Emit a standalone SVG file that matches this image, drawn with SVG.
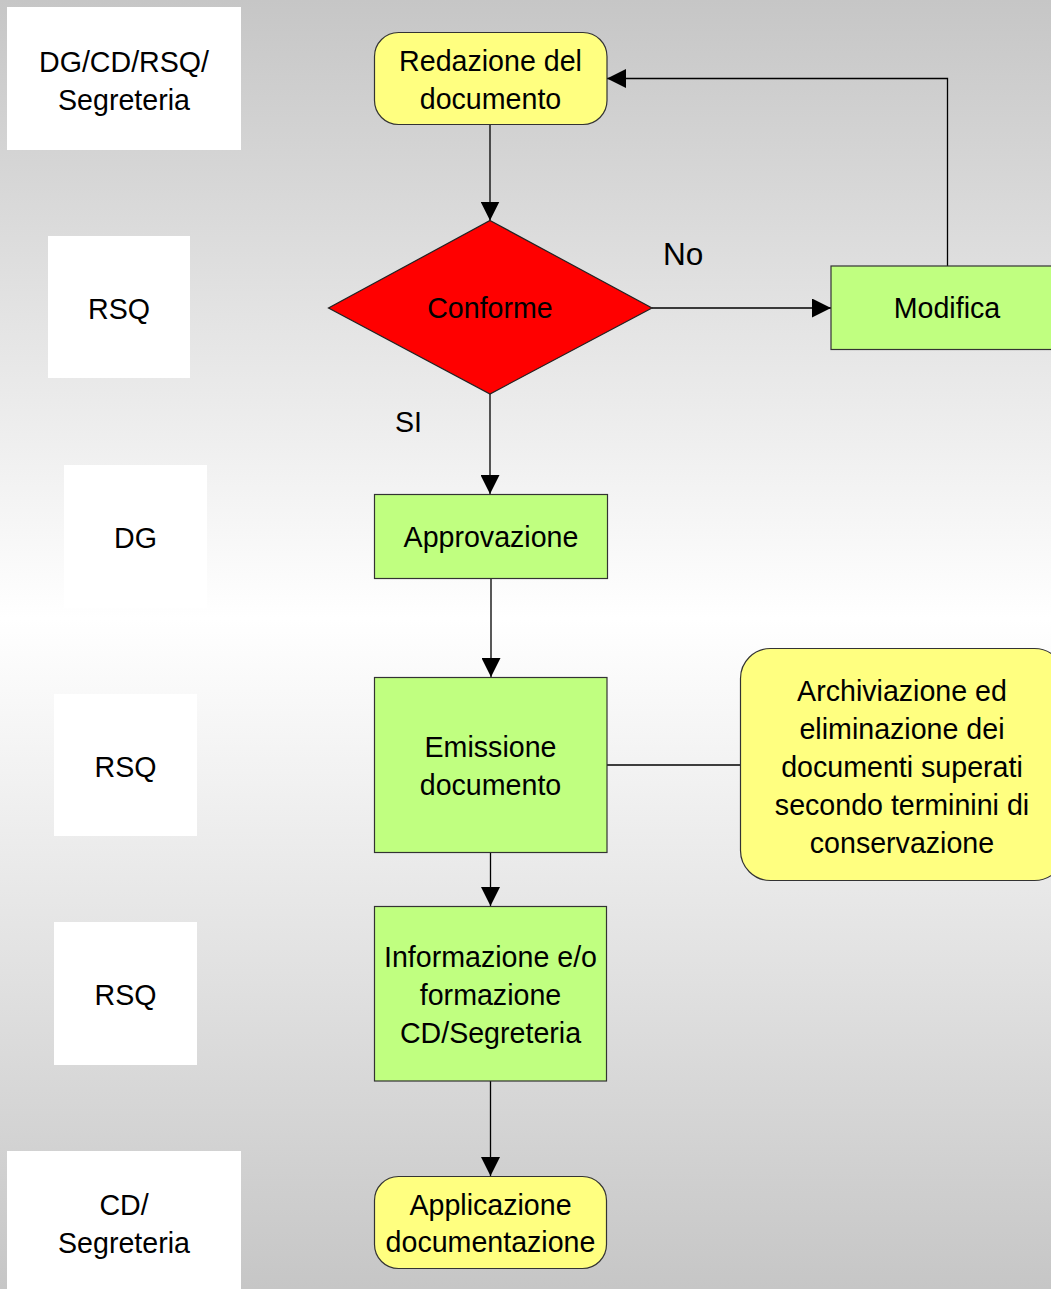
<svg xmlns="http://www.w3.org/2000/svg" width="1051" height="1289" viewBox="0 0 1051 1289">
  <defs>
    <linearGradient id="bg" x1="0" y1="0" x2="0" y2="1">
      <stop offset="0" stop-color="#c6c6c6"/>
      <stop offset="0.48" stop-color="#ffffff"/>
      <stop offset="1" stop-color="#c6c6c6"/>
    </linearGradient>
    <marker id="arrow" viewBox="0 0 19 19" refX="19" refY="9.5" markerWidth="19" markerHeight="19" markerUnits="userSpaceOnUse" orient="auto">
      <path d="M0,0 L19,9.5 L0,19 Z" fill="#000"/>
    </marker>
  </defs>
  <style>
    text { font-family: "Liberation Sans", Arial, sans-serif; font-size: 28.6px; fill: #000; text-anchor: middle; }
    .role { fill: #ffffff; stroke: none; }
    .term { fill: #ffff80; stroke: #333333; stroke-width: 1.2; }
    .proc { fill: #c0ff80; stroke: #333333; stroke-width: 1.2; }
    .dec { fill: #ff0000; stroke: #222222; stroke-width: 1.2; }
    .conn { fill: none; stroke: #000; stroke-width: 1.3; }
    .label { text-anchor: start; }
    .big { font-size: 31.5px; }
  </style>

  <rect x="0" y="0" width="1051" height="1289" fill="url(#bg)"/>

  <!-- Role column -->
  <g id="role-redazione">
    <rect class="role" x="7" y="7" width="234" height="143"/>
    <text x="124" y="72">DG/CD/RSQ/</text>
    <text x="124" y="110">Segreteria</text>
  </g>
  <g id="role-conforme">
    <rect class="role" x="48" y="236" width="142" height="142"/>
    <text x="119" y="319">RSQ</text>
  </g>
  <g id="role-approvazione">
    <rect class="role" x="64" y="465" width="143" height="143"/>
    <text x="135.5" y="548">DG</text>
  </g>
  <g id="role-emissione">
    <rect class="role" x="54" y="694" width="143" height="142"/>
    <text x="125.5" y="777">RSQ</text>
  </g>
  <g id="role-informazione">
    <rect class="role" x="54" y="922" width="143" height="143"/>
    <text x="125.5" y="1005">RSQ</text>
  </g>
  <g id="role-applicazione">
    <rect class="role" x="7" y="1151" width="234" height="140"/>
    <text x="124" y="1215">CD/</text>
    <text x="124" y="1253">Segreteria</text>
  </g>

  <!-- Connectors -->
  <g id="connectors">
    <path class="conn" d="M490,124.5 V220.5" marker-end="url(#arrow)"/>
    <path class="conn" d="M652,308 H831" marker-end="url(#arrow)"/>
    <path class="conn" d="M947.5,266 V78.5 H607" marker-end="url(#arrow)"/>
    <path class="conn" d="M490,394 V494" marker-end="url(#arrow)"/>
    <path class="conn" d="M491,578.5 V677" marker-end="url(#arrow)"/>
    <path class="conn" d="M490.5,852 V906" marker-end="url(#arrow)"/>
    <path class="conn" d="M490.5,1081 V1176" marker-end="url(#arrow)"/>
    <path class="conn" d="M607,765 H740"/>
    <text class="label big" x="663" y="265">No</text>
    <text class="label" x="395" y="432">SI</text>
  </g>

  <!-- Flow nodes -->
  <g id="redazione">
    <rect class="term" x="374.5" y="32.5" width="232.5" height="92" rx="24" ry="24"/>
    <text x="490.5" y="71">Redazione del</text>
    <text x="490.5" y="109">documento</text>
  </g>
  <g id="conforme">
    <polygon class="dec" points="490,220.5 652,308 490,394 328.5,308"/>
    <text x="490" y="318">Conforme</text>
  </g>
  <g id="modifica">
    <rect class="proc" x="831" y="266" width="232" height="83.5"/>
    <text x="947" y="318">Modifica</text>
  </g>
  <g id="approvazione">
    <rect class="proc" x="374.5" y="494.5" width="233" height="84"/>
    <text x="491" y="547">Approvazione</text>
  </g>
  <g id="emissione">
    <rect class="proc" x="374.5" y="677.5" width="232.5" height="175"/>
    <text x="490.5" y="757">Emissione</text>
    <text x="490.5" y="795">documento</text>
  </g>
  <g id="archiviazione">
    <rect class="term" x="740.5" y="648.5" width="324" height="232" rx="30" ry="30"/>
    <text x="902" y="701">Archiviazione ed</text>
    <text x="902" y="739">eliminazione dei</text>
    <text x="902" y="777">documenti superati</text>
    <text x="902" y="815">secondo terminini di</text>
    <text x="902" y="853">conservazione</text>
  </g>
  <g id="informazione">
    <rect class="proc" x="374.5" y="906.5" width="232" height="174.5"/>
    <text x="490.5" y="967">Informazione e/o</text>
    <text x="490.5" y="1005">formazione</text>
    <text x="490.5" y="1043">CD/Segreteria</text>
  </g>
  <g id="applicazione">
    <rect class="term" x="374.5" y="1176.5" width="232" height="92" rx="24" ry="24"/>
    <text x="490.5" y="1215">Applicazione</text>
    <text x="490.5" y="1252">documentazione</text>
  </g>
</svg>
